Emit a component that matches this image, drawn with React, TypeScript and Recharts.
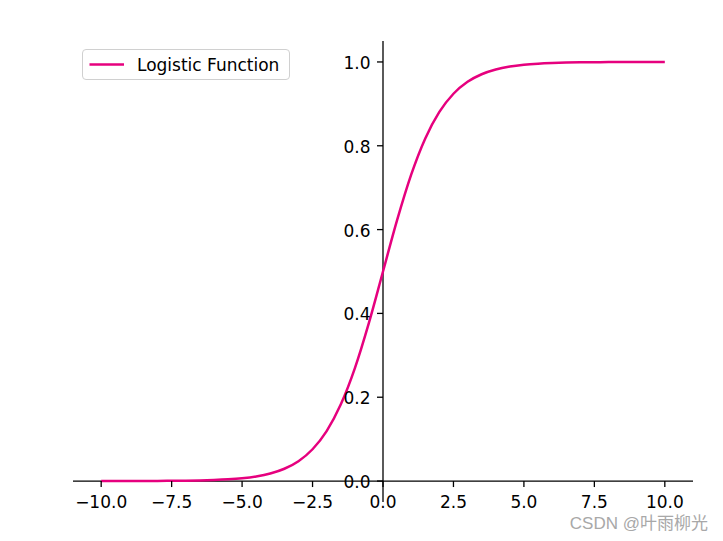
import React from "react";
import { LineChart, Line, XAxis, YAxis, ReferenceLine, Customized } from "recharts";

const xValues = [-10, -9.5, -9, -8.5, -8, -7.5, -7, -6.5, -6, -5.5, -5, -4.5, -4, -3.5, -3, -2.5, -2, -1.5, -1, -0.5, 0, 0.5, 1, 1.5, 2, 2.5, 3, 3.5, 4, 4.5, 5, 5.5, 6, 6.5, 7, 7.5, 8, 8.5, 9, 9.5, 10];
const yValues = [0.0000, 0.0001, 0.0001, 0.0002, 0.0003, 0.0006, 0.0009, 0.0015, 0.0025, 0.0041, 0.0067, 0.0110, 0.0180, 0.0293, 0.0474, 0.0759, 0.1192, 0.1824, 0.2689, 0.3775, 0.5, 0.6225, 0.7311, 0.8176, 0.8808, 0.9241, 0.9526, 0.9707, 0.9820, 0.9890, 0.9933, 0.9959, 0.9975, 0.9985, 0.9991, 0.9994, 0.9997, 0.9998, 0.9999, 0.9999, 1.0];
const xTicks = [-10, -7.5, -5, -2.5, 0, 2.5, 5, 7.5, 10];
const yTicks = [0, 0.2, 0.4, 0.6, 0.8, 1.0];
const xDomain: [number, number] = [-11, 11];
const yDomain: [number, number] = [-0.05, 1.05];
const seriesName = "Logistic Function";
const watermark = "CSDN @叶雨柳光";

const data = xValues.map((x, i) => ({ x, y: yValues[i] }));

const W = 723;
const H = 541;
const AXIS_H = 30;
const AXIS_W = 60;
const M = { top: 41, left: 73 - AXIS_W, right: 30, bottom: 39 - AXIS_H };
const plotLeft = M.left + AXIS_W;
const plotBottom = H - M.bottom - AXIS_H;
const plotW = W - plotLeft - M.right;
const plotH = plotBottom - M.top;
const zeroX = plotLeft + (plotW * (0 - xDomain[0])) / (xDomain[1] - xDomain[0]);
const zeroY = M.top + (plotH * (yDomain[1] - 0)) / (yDomain[1] - yDomain[0]);

const FONT = "'DejaVu Sans', sans-serif";
const FS = 17;
const LINE_COLOR = "#e6007e";
const SPINE_W = 1.3;

const fmt = (v: number) => {
  const s = v.toFixed(1);
  return s.startsWith("-") ? "\u2212" + s.slice(1) : s;
};

const XTick = (props: any) => {
  const { x, payload } = props;
  return (
    <g>
      <line x1={x} x2={x} y1={zeroY} y2={zeroY + 6} stroke="#000" strokeWidth={SPINE_W} />
      <text x={x} y={zeroY + 26.5} textAnchor="middle" fontFamily={FONT} fontSize={FS} fill="#000">
        {fmt(payload.value)}
      </text>
    </g>
  );
};

const YTick = (props: any) => {
  const { y, payload } = props;
  return (
    <g>
      <line x1={zeroX - 6} x2={zeroX} y1={y} y2={y} stroke="#000" strokeWidth={SPINE_W} />
      <text x={zeroX - 12.5} y={y + 7} textAnchor="end" fontFamily={FONT} fontSize={FS} fill="#000">
        {fmt(payload.value)}
      </text>
    </g>
  );
};

export default function App() {
  return (
    <div style={{ position: "absolute", left: 0, top: 0, width: W, height: H, background: "#fff" }}>
      <LineChart width={W} height={H} data={data} margin={M}>
        <XAxis
          dataKey="x"
          type="number"
          domain={xDomain}
          ticks={xTicks}
          axisLine={false}
          tickLine={false}
          height={AXIS_H}
          tick={<XTick />}
          interval={0}
          allowDataOverflow
        />
        <YAxis
          type="number"
          domain={yDomain}
          ticks={yTicks}
          axisLine={false}
          tickLine={false}
          width={AXIS_W}
          tick={<YTick />}
          interval={0}
          allowDataOverflow
        />
        <ReferenceLine y={0} stroke="#000" strokeOpacity={1} strokeWidth={SPINE_W} ifOverflow="visible" />
        <ReferenceLine x={0} stroke="#000" strokeOpacity={1} strokeWidth={SPINE_W} ifOverflow="visible" />
        <Line
          type="monotone"
          dataKey="y"
          name={seriesName}
          stroke={LINE_COLOR}
          strokeWidth={2.5}
          dot={false}
          isAnimationActive={false}
        />
        <Customized
          component={() => (
            <text
              x={708}
              y={529}
              textAnchor="end"
              fontFamily="'Liberation Sans', 'Noto Sans CJK SC', sans-serif"
              fontSize={17}
              fill="#a8a8a8"
            >
              {watermark}
            </text>
          )}
        />
      </LineChart>
      <div
        style={{
          position: "absolute",
          left: 82,
          top: 49,
          width: 206,
          height: 29,
          border: "1px solid #d0d0d0",
          borderRadius: 4,
          background: "rgba(255,255,255,0.8)",
          display: "flex",
          alignItems: "center",
          fontFamily: FONT,
          fontSize: FS,
          color: "#000",
        }}
      >
        <svg width={45} height={29} style={{ display: "block", flex: "none" }}>
          <line x1={6.5} x2={41} y1={14.5} y2={14.5} stroke={LINE_COLOR} strokeWidth={2.5} />
        </svg>
        <span style={{ marginLeft: 9, whiteSpace: "nowrap" }}>{seriesName}</span>
      </div>
    </div>
  );
}
